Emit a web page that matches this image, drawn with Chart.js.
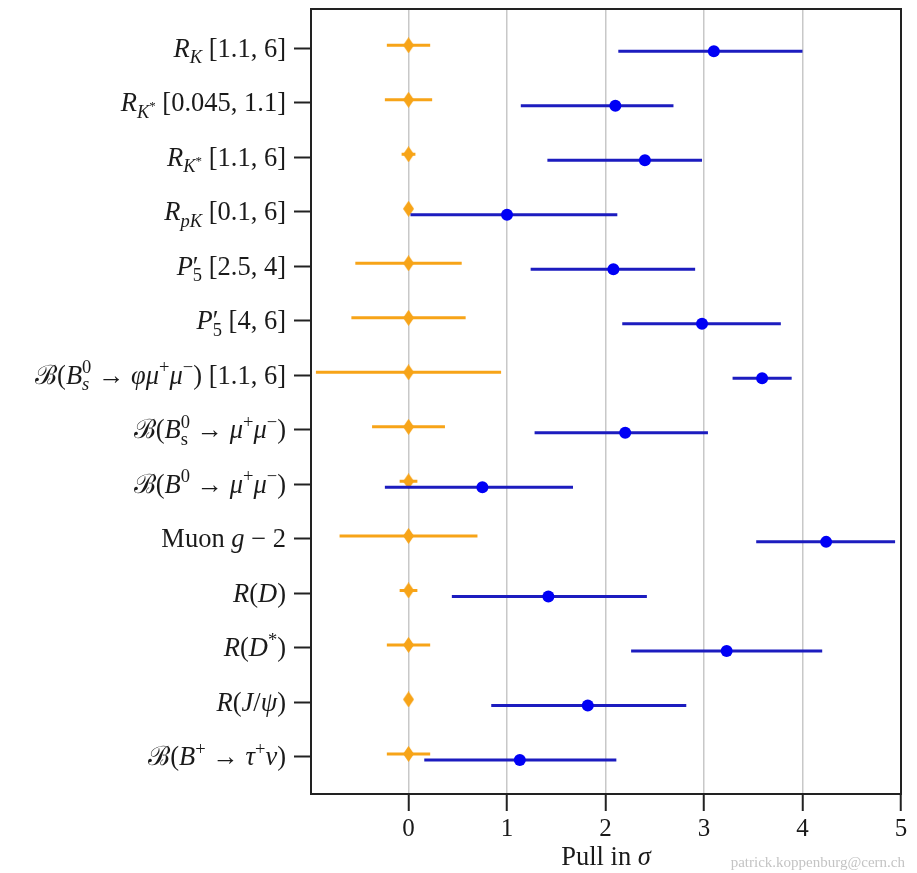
<!DOCTYPE html>
<html>
<head>
<meta charset="utf-8">
<script src="https://cdn.jsdelivr.net/npm/chart.js@4.4.0/dist/chart.umd.min.js"></script>
<style>
  html, body { margin: 0; padding: 0; background: #fff; }
  #wrap { position: relative; width: 917px; height: 873px; }
</style>
</head>
<body>
<div id="wrap"><canvas id="pulls"></canvas></div>
<script>
// rows top to bottom, written in a small mathtext-like markup (parsed below)
const categories = [
  '$R_K$ [1.1, 6]',
  '$R_{K^*}$ [0.045, 1.1]',
  '$R_{K^*}$ [1.1, 6]',
  '$R_{pK}$ [0.1, 6]',
  "$P'_5$ [2.5, 4]",
  "$P'_5$ [4, 6]",
  '$\\mathcal{B}(B_s^0 \\to \\phi\\mu^+\\mu^-)$ [1.1, 6]',
  '$\\mathcal{B}(B_\\mathrm{s}^0 \\to \\mu^+\\mu^-)$',
  '$\\mathcal{B}(B^0 \\to \\mu^+\\mu^-)$',
  'Muon $g-2$',
  '$R(D)$',
  '$R(D^*)$',
  '$R(J/\\psi)$',
  '$\\mathcal{B}(B^+ \\to \\tau^+\\nu)$'
];

// SM prediction (always at 0) and its uncertainty
const smCentre = [0, 0, 0, 0, 0, 0, 0, 0, 0, 0, 0, 0, 0, 0];
const smError  = [0.22, 0.24, 0.07, 0.03, 0.54, 0.58, 0.94, 0.37, 0.09, 0.70, 0.09, 0.22, 0.0, 0.22];

// measurements: pull and the ends of the error bar
const measPull = [3.10, 2.10, 2.40, 1.00, 2.08, 2.98, 3.59, 2.20, 0.75, 4.24, 1.42, 3.23, 1.82, 1.13];
const measLow  = [2.13, 1.14, 1.41, 0.02, 1.24, 2.17, 3.29, 1.28, -0.24, 3.53, 0.44, 2.26, 0.84, 0.16];
const measHigh = [4.00, 2.69, 2.98, 2.12, 2.91, 3.78, 3.89, 3.04, 1.67, 4.94, 2.42, 4.20, 2.82, 2.11];

const xTicks = [0, 1, 2, 3, 4, 5];
const xTitle = 'Pull in $\\sigma$';
const credit = 'patrick.koppenburg@cern.ch';

const FAMILY = '"Liberation Serif", "DejaVu Serif", serif';
const BASE_PX = 26.5;
const SYM = { to: '\u2192', phi: '\u03c6', mu: '\u03bc', tau: '\u03c4', nu: '\u03bd', psi: '\u03c8', sigma: '\u03c3' };
const CAL = { B: '\u212c' };

// tiny TeX-ish parser -> list of runs {t, it, sz, dy} and script stacks {sub, sup}
function parseTeX(src) {
  let pos = 0;
  const run = (t, st, it) => ({ t, it, sz: st.sz, dy: st.dy });

  function atom(st) {
    const c = src[pos];
    if (c === '{') { pos++; const g = mathList(st, '}'); pos++; return g; }
    if (c === '\\') {
      const name = /^\\([a-zA-Z]+)/.exec(src.slice(pos))[1];
      pos += name.length + 1;
      if (name === 'mathcal') return atom(st).map(r => ({ ...r, t: CAL[r.t] || r.t, it: false }));
      if (name === 'mathrm') return atom({ ...st, rm: true });
      if (name === 'to') return [run(st.script ? SYM.to : ' ' + SYM.to + ' ', st, false)];
      return [run(SYM[name], st, !st.rm)];
    }
    pos++;
    if (/[A-Za-z]/.test(c)) return [run(c, st, !st.rm)];
    if (c === '-') return [run(st.script ? '\u2212' : ' \u2212 ', st, false)];
    return [run(c, st, false)];
  }

  function scripts(st, items) {
    let sub = [], sup = [];
    while (pos < src.length && "_^'".includes(src[pos])) {
      const c = src[pos++];
      if (c === "'") { sup = [run('\u2032', st, false)]; continue; }
      const s2 = { sz: st.sz * 0.7, dy: st.dy + (c === '_' ? 0.24 : -0.4) * st.sz, script: true };
      if (c === '_') sub = atom(s2); else sup = atom(s2);
    }
    items.push({ sub, sup });
  }

  function mathList(st, stop) {
    const items = [];
    while (pos < src.length && src[pos] !== stop) {
      const c = src[pos];
      if (c === ' ') { pos++; continue; }
      if ("_^'".includes(c)) { scripts(st, items); continue; }
      items.push(...atom(st));
    }
    return items;
  }

  const st = { sz: 1, dy: 0 };
  const items = [];
  while (pos < src.length) {
    if (src[pos] === '$') { pos++; items.push(...mathList(st, '$')); pos++; }
    else items.push(run(src[pos++], st, false));
  }
  return items;
}

function fontFor(r, base) {
  return (r.it ? 'italic ' : '') + (base * r.sz).toFixed(2) + 'px ' + FAMILY;
}
function widthOf(ctx, items, base) {
  let w = 0;
  for (const r of items) {
    if (r.sub) w += Math.max(widthOf(ctx, r.sub, base), widthOf(ctx, r.sup, base));
    else { ctx.font = fontFor(r, base); w += ctx.measureText(r.t).width; }
  }
  return w;
}
function drawItems(ctx, items, x, y, base) {
  for (const r of items) {
    if (r.sub) {
      x = Math.max(drawItems(ctx, r.sub, x, y, base), drawItems(ctx, r.sup, x, y, base));
    } else {
      ctx.font = fontFor(r, base);
      ctx.fillText(r.t, x, y + r.dy * base);
      x += ctx.measureText(r.t).width;
    }
  }
  return x;
}

const parsedCats = categories.map(parseTeX);
const parsedTitle = parseTeX(xTitle);

const texPlugin = {
  id: 'texLabels',
  afterDraw(chart) {
    const { ctx, chartArea: a, scales: { y } } = chart;
    ctx.save();
    ctx.fillStyle = '#1a1a1a';
    ctx.textAlign = 'left';
    ctx.textBaseline = 'alphabetic';
    parsedCats.forEach((items, i) => {
      const w = widthOf(ctx, items, BASE_PX);
      drawItems(ctx, items, a.left - 25 - w, y.getPixelForValue(i) + 8.5, BASE_PX);
    });
    const tw = widthOf(ctx, parsedTitle, BASE_PX);
    drawItems(ctx, parsedTitle, (a.left + a.right) / 2 - tw / 2, 865, BASE_PX);

    ctx.strokeStyle = '#222';
    ctx.lineWidth = 2;
    ctx.strokeRect(a.left, a.top, a.right - a.left, a.bottom - a.top);

    ctx.font = '15px ' + FAMILY;
    ctx.fillStyle = '#c4c4c4';
    ctx.textAlign = 'right';
    ctx.fillText(credit, 905, 867);
    ctx.restore();
  }
};

function thinDiamond(w, h, color) {
  const c = document.createElement('canvas');
  c.width = w; c.height = h;
  const g = c.getContext('2d');
  g.fillStyle = color;
  g.beginPath();
  g.moveTo(w / 2, 0); g.lineTo(w, h / 2); g.lineTo(w / 2, h); g.lineTo(0, h / 2);
  g.closePath(); g.fill();
  return c;
}

const rows = categories.map((_, i) => i);
const OFF = 0.055;
const ORANGE = '#f7a418';
const BLUE = '#0000f5';
const BLUE_BAR = '#1c1cbf';

function errorSegments(lo, hi, shift) {
  const pts = [];
  rows.forEach(i => {
    pts.push({ x: lo[i], y: i + shift }, { x: hi[i], y: i + shift }, { x: null, y: null });
  });
  return pts;
}

const smLow = rows.map(i => smCentre[i] - smError[i]);
const smHigh = rows.map(i => smCentre[i] + smError[i]);

new Chart(document.getElementById('pulls'), {
  type: 'scatter',
  data: {
    datasets: [
      { label: 'Measurement', data: rows.map(i => ({ x: measPull[i], y: i + OFF })),
        pointRadius: 6, pointBackgroundColor: BLUE, pointBorderWidth: 0, showLine: false },
      { label: 'Measurement error', data: errorSegments(measLow, measHigh, OFF),
        showLine: true, spanGaps: false, borderColor: BLUE_BAR, borderWidth: 3, pointRadius: 0 },
      { label: 'SM', data: rows.map(i => ({ x: smCentre[i], y: i - OFF })),
        pointStyle: thinDiamond(11, 16, ORANGE), pointRadius: 8, showLine: false },
      { label: 'SM error', data: errorSegments(smLow, smHigh, -OFF),
        showLine: true, spanGaps: false, borderColor: ORANGE, borderWidth: 3, pointRadius: 0 }
    ]
  },
  options: {
    responsive: true,
    maintainAspectRatio: false,
    animation: false,
    devicePixelRatio: 1,
    layout: { padding: { top: 7, right: 16, left: 0, bottom: 0 } },
    plugins: { legend: { display: false }, tooltip: { enabled: false } },
    scales: {
      x: {
        type: 'linear', min: -0.99, max: 5,
        afterBuildTicks: s => { s.ticks = xTicks.map(v => ({ value: v })); },
        afterFit: s => { s.height = 79; },
        grid: { color: '#c8c8c8', lineWidth: 1.5, tickColor: '#222', tickWidth: 2, tickLength: 17 },
        border: { display: false },
        ticks: { color: '#1a1a1a', font: { family: FAMILY, size: 25 }, padding: 3, maxRotation: 0 }
      },
      y: {
        type: 'linear', reverse: true, min: -0.72, max: 13.68,
        afterBuildTicks: s => { s.ticks = rows.map(v => ({ value: v })); },
        afterFit: s => { s.width = 311; },
        grid: { drawOnChartArea: false, tickColor: '#222', tickWidth: 2, tickLength: 17 },
        border: { display: false },
        ticks: { callback: () => '', font: { size: 1 } }
      }
    }
  },
  plugins: [texPlugin]
});
</script>
</body>
</html>
